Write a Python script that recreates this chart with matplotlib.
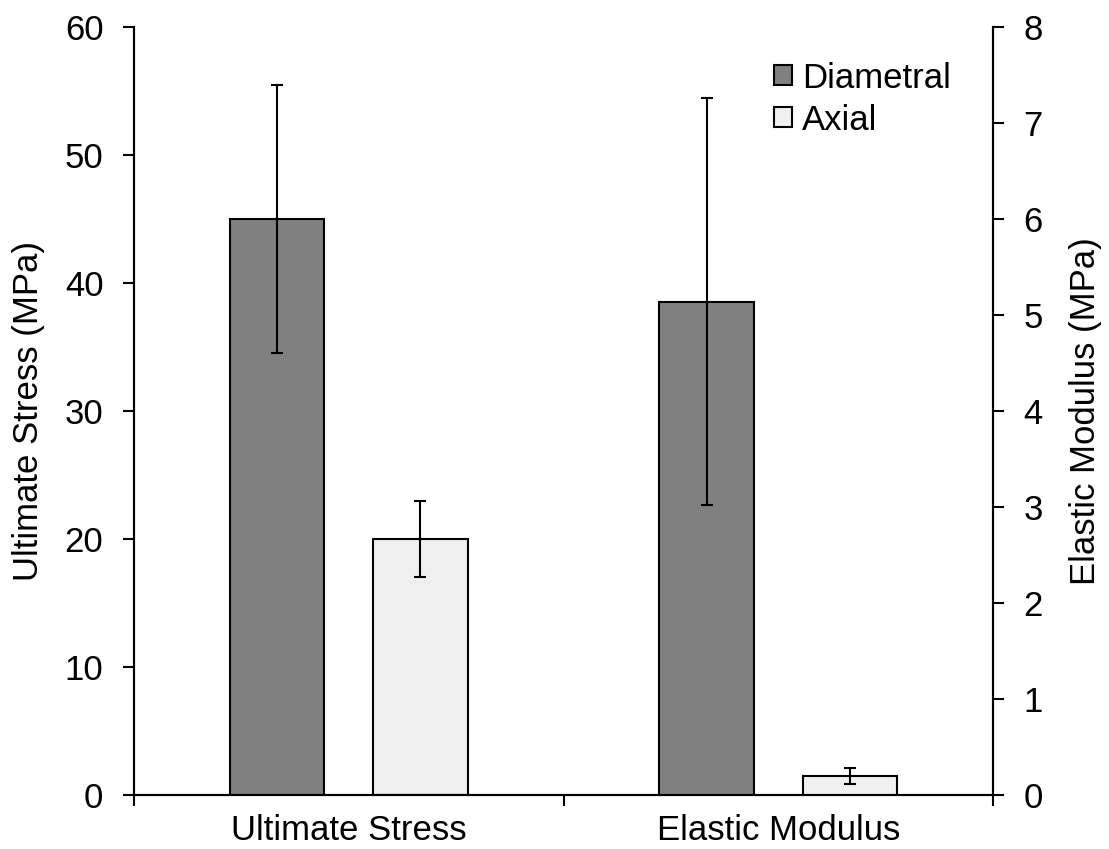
import numpy as np
import matplotlib.pyplot as plt

plt.rcParams['font.family'] = 'Liberation Sans'

categories = ['Ultimate Stress', 'Elastic Modulus']
series = ['Diametral', 'Axial']

# Ultimate stress (MPa), left axis
stress_mean = [45.0, 20.0]
stress_err = [10.5, 3.0]

# Elastic modulus (MPa), right axis
modulus_mean = [5.14, 0.2]
modulus_err = [2.12, 0.085]

colors = ['#808080', '#f0f0f0']
width = 0.22
offsets = [-0.167, 0.167]
fs = 25

fig = plt.figure(figsize=(11.09, 8.49), dpi=100)
ax = fig.add_axes([134/1109, 54/849, 859/1109, 768/849])
ax2 = ax.twinx()

err_kw = dict(ecolor='black', elinewidth=1.5, capsize=4.5, capthick=1.5)
for i, name in enumerate(series):
    ax.bar(0 + offsets[i], stress_mean[i], width, yerr=stress_err[i],
           color=colors[i], edgecolor='black', linewidth=1.5,
           error_kw=err_kw, label=name, zorder=2)
    ax2.bar(1 + offsets[i], modulus_mean[i], width, yerr=modulus_err[i],
            color=colors[i], edgecolor='black', linewidth=1.5,
            error_kw=err_kw, zorder=2)

ax.set_xlim(-0.5, 1.5)
ax.set_ylim(0, 60)
ax2.set_ylim(0, 8)
ax.set_yticks(np.arange(0, 61, 10))
ax2.set_yticks(np.arange(0, 9, 1))

# category boundaries get the tick marks, the names sit in between
ax.set_xticks([-0.5, 0.5, 1.5])
ax.set_xticklabels([])
ax.set_xticks([0, 1], minor=True)
ax.set_xticklabels(categories, minor=True)
ax.tick_params(axis='x', which='minor', length=0, pad=14, labelsize=fs)
ax.tick_params(axis='x', which='major', direction='out', length=8, width=1.5)

ax.tick_params(axis='y', direction='out', length=8, width=1.5, labelsize=fs, pad=14)
ax2.tick_params(axis='y', direction='out', length=8, width=1.5, labelsize=fs, pad=14)

for a in (ax, ax2):
    a.spines['top'].set_visible(False)
    for s in ('left', 'right', 'bottom'):
        a.spines[s].set_linewidth(1.5)

ax.set_ylabel('Ultimate Stress (MPa)', fontsize=fs, labelpad=14)
ax2.set_ylabel('Elastic Modulus (MPa)', fontsize=fs, labelpad=19)

ax.legend(loc='upper left', bbox_to_anchor=(0.745, 0.955), frameon=False,
          fontsize=fs, handlelength=0.52, handleheight=0.52, handletextpad=0.3,
          labelspacing=0.26, borderaxespad=0, borderpad=0)

fig.savefig('out.png', dpi=100)
